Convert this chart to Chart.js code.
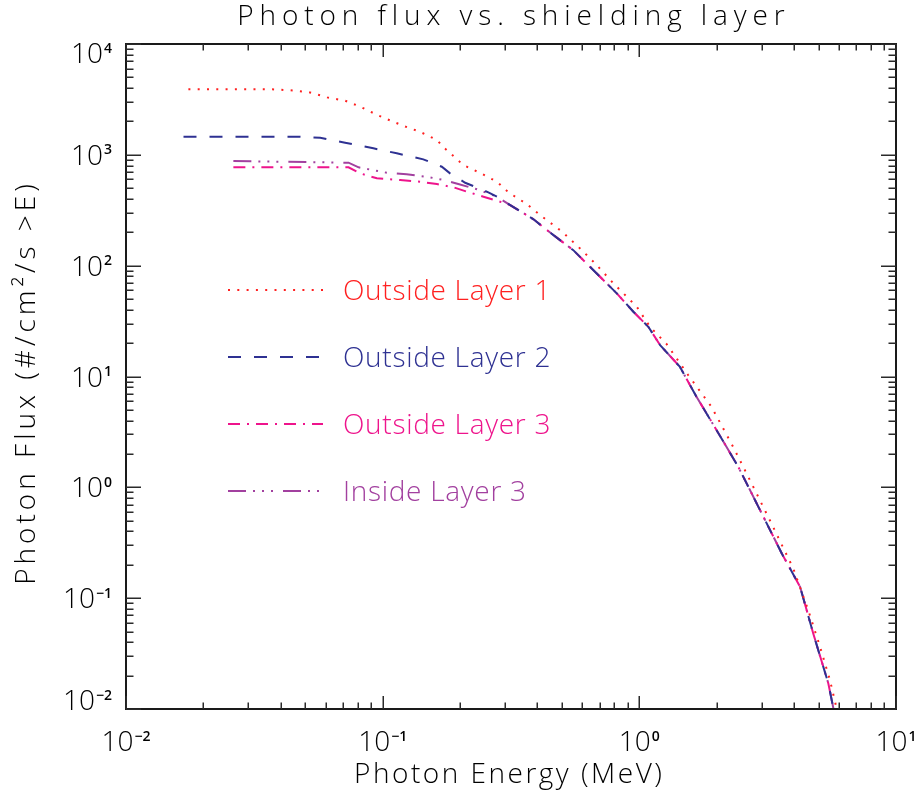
<!DOCTYPE html>
<html>
<head>
<meta charset="utf-8">
<title>Photon flux vs. shielding layer</title>
<script src="https://cdn.jsdelivr.net/npm/chart.js@4.4.1/dist/chart.umd.min.js"></script>
<style>
  html, body { margin: 0; padding: 0; background: #ffffff; }
  #wrap { width: 920px; height: 800px; }
</style>
</head>
<body>
<div id="wrap"><canvas id="flux" width="920" height="800"></canvas></div>
<script>
// Integral photon flux (# / cm^2 / s above E) against photon energy (MeV)
const layer1Energy = [0.0175, 0.0371, 0.0437, 0.0513, 0.0608, 0.0714, 0.0817, 0.0952, 0.104, 0.120, 0.140, 0.163, 0.172, 0.183, 0.206, 0.240, 0.279, 0.309, 0.364, 0.411, 0.501, 0.597, 0.672, 0.793, 0.977, 1.10, 1.28, 1.55, 1.91, 2.32, 2.78, 3.32, 3.98, 4.55, 5.06, 5.53, 5.87, 5.92];
const layer1Flux   = [3900, 3900, 3820, 3690, 3300, 3080, 2720, 2290, 2100, 1830, 1610, 1360, 1180, 1040, 809, 686, 571, 459, 360, 286, 202, 138, 105, 69.2, 42.6, 28.1, 19.5, 10.3, 5.33, 2.32, 1.01, 0.44, 0.185, 0.078, 0.0363, 0.0182, 0.0101, 0.0090];

const layer2Energy = [0.01675, 0.0477, 0.0571, 0.0714, 0.092, 0.1135, 0.144, 0.170, 0.183, 0.2096, 0.229, 0.258, 0.279, 0.314, 0.387, 0.436, 0.491, 0.553, 0.703, 0.817, 0.948, 1.084, 1.205, 1.44, 1.67, 2.00, 2.43, 2.91, 3.59, 4.23, 4.76, 5.45, 5.69, 5.76];
const layer2Flux   = [1456, 1456, 1426, 1285, 1145, 1032, 910, 781, 681, 560, 515, 459, 419, 352, 262, 210, 170, 138, 79.4, 56.2, 38.4, 28.1, 19.2, 12.2, 6.56, 3.28, 1.53, 0.667, 0.253, 0.1265, 0.048, 0.017, 0.0104, 0.0090];

const layer3OutEnergy = [0.0262, 0.0736, 0.0817, 0.0949, 0.117, 0.140, 0.1626, 0.189, 0.213, 0.247, 0.287, 0.314, 0.387, 0.436, 0.491, 0.553, 0.703, 0.817, 0.948, 1.084, 1.205, 1.44, 1.67, 2.00, 2.43, 2.91, 3.59, 4.23, 4.76, 5.45, 5.69, 5.76];
const layer3OutFlux   = [771, 771, 681, 614, 593, 572, 545, 509, 465, 419, 377, 352, 262, 210, 170, 138, 79.4, 56.2, 38.4, 28.1, 19.2, 12.2, 6.56, 3.28, 1.53, 0.667, 0.253, 0.1265, 0.048, 0.017, 0.0104, 0.0090];

const layer3InEnergy = [0.0262, 0.0736, 0.0806, 0.1038, 0.124, 0.1486, 0.1726, 0.197, 0.233, 0.279, 0.314, 0.387, 0.436, 0.491, 0.553, 0.703, 0.817, 0.948, 1.084, 1.205, 1.44, 1.67, 2.00, 2.43, 2.91, 3.59, 4.23, 4.76, 5.45, 5.69, 5.76];
const layer3InFlux   = [879, 849, 771, 689, 667, 634, 593, 545, 489, 419, 352, 262, 210, 170, 138, 79.4, 56.2, 38.4, 28.1, 19.2, 12.2, 6.56, 3.28, 1.53, 0.667, 0.253, 0.1265, 0.048, 0.017, 0.0104, 0.0090];

const seriesNames = ['Outside Layer 1', 'Outside Layer 2', 'Outside Layer 3', 'Inside Layer 3'];

// Decade ticks and their exponent labels
const xTickValues = [0.01, 0.1, 1, 10];
const xTickExponents = ['\u22122', '\u22121', '0', '1'];
const yTickValues = [0.01, 0.1, 1, 10, 100, 1000, 10000];
const yTickExponents = ['\u22122', '\u22121', '0', '1', '2', '3', '4'];

const chartTitle = 'Photon flux vs. shielding layer';
const xTitle = 'Photon Energy (MeV)';
const yTitle = 'Photon Flux (#/cm\u00b2/s >E)';

const FONT = "'Open Sans', 'Liberation Sans', Arial, sans-serif";
const TEXT_WEIGHT = '300';

function pairs(xs, ys) {
  return xs.map((x, i) => ({ x: x, y: ys[i] }));
}

// Text with extra letter spacing, placed by its visual left edge or centre
function spacedText(ctx, text, x, y, spacing, align) {
  ctx.letterSpacing = spacing + 'px';
  const w = ctx.measureText(text).width - spacing;
  const left = align === 'center' ? x - w / 2 : x;
  ctx.textAlign = 'left';
  ctx.fillText(text, left, y);
  ctx.letterSpacing = '0px';
}

// "10" with a raised exponent
function powerLabel(ctx, exp, x, baseline, align) {
  ctx.letterSpacing = '0px';
  ctx.textAlign = 'left';
  ctx.textBaseline = 'alphabetic';
  ctx.font = TEXT_WEIGHT + ' 28px ' + FONT;
  const wBase = ctx.measureText('10').width;
  ctx.font = '600 14px ' + FONT;
  const wExp = ctx.measureText(exp).width;
  const total = wBase + 1 + wExp;
  const left = align === 'center' ? x - total / 2 : x - total;
  ctx.font = TEXT_WEIGHT + ' 28px ' + FONT;
  ctx.fillText('10', left, baseline);
  ctx.font = '600 14px ' + FONT;
  ctx.fillText(exp, left + wBase + 1, baseline - 10.5);
}

function minorValues(min, max) {
  const out = [];
  for (let d = min; d < max * 0.999; d *= 10) {
    for (let m = 2; m <= 9; m++) out.push(d * m);
  }
  return out;
}

const frame = {
  id: 'frame',
  afterDatasetsDraw(chart) {
    const ctx = chart.ctx;
    const { left, right, top, bottom } = chart.chartArea;
    const xs = chart.scales.x, ys = chart.scales.y;
    ctx.save();

    // plot box
    ctx.strokeStyle = '#1a1a1a';
    ctx.lineWidth = 2;
    ctx.strokeRect(left, top, right - left, bottom - top);

    // inward ticks on all four sides
    ctx.strokeStyle = '#2a2a2a';
    ctx.lineWidth = 1.5;
    ctx.beginPath();
    const xMajor = 13, xMinor = 6.5, yMajor = 15, yMinor = 7.5;
    xTickValues.forEach(v => {
      const px = Math.round(xs.getPixelForValue(v)) + 0.25;
      ctx.moveTo(px, bottom); ctx.lineTo(px, bottom - xMajor);
      ctx.moveTo(px, top); ctx.lineTo(px, top + xMajor);
    });
    minorValues(xs.min, xs.max).forEach(v => {
      const px = Math.round(xs.getPixelForValue(v)) + 0.25;
      ctx.moveTo(px, bottom); ctx.lineTo(px, bottom - xMinor);
      ctx.moveTo(px, top); ctx.lineTo(px, top + xMinor);
    });
    yTickValues.forEach(v => {
      const py = Math.round(ys.getPixelForValue(v)) + 0.25;
      ctx.moveTo(left, py); ctx.lineTo(left + yMajor, py);
      ctx.moveTo(right, py); ctx.lineTo(right - yMajor, py);
    });
    minorValues(ys.min, ys.max).forEach(v => {
      const py = Math.round(ys.getPixelForValue(v)) + 0.25;
      ctx.moveTo(left, py); ctx.lineTo(left + yMinor, py);
      ctx.moveTo(right, py); ctx.lineTo(right - yMinor, py);
    });
    ctx.stroke();

    // tick labels
    ctx.fillStyle = '#000000';
    xTickValues.forEach((v, i) => {
      powerLabel(ctx, xTickExponents[i], xs.getPixelForValue(v), bottom + 42, 'center');
    });
    yTickValues.forEach((v, i) => {
      const py = ys.getPixelForValue(v);
      let base = py + 10;
      if (base - 20 < top - 1) base = top + 19;
      if (base > bottom + 1) base = bottom + 1;
      powerLabel(ctx, yTickExponents[i], left - 14, base, 'right');
    });

    // titles
    ctx.textBaseline = 'alphabetic';
    ctx.font = TEXT_WEIGHT + ' 28px ' + FONT;
    spacedText(ctx, chartTitle, (left + right) / 2, 25, 5.9, 'center');
    spacedText(ctx, xTitle, (left + right) / 2 - 3, 783, 2.5, 'center');
    ctx.save();
    ctx.translate(35, (top + bottom) / 2 + 8);
    ctx.rotate(-Math.PI / 2);
    spacedText(ctx, yTitle, 0, 0, 4, 'center');
    ctx.restore();

    // legend inside the plot
    chart.data.datasets.forEach((ds, i) => {
      const y = top + 246 + i * 67;
      ctx.strokeStyle = ds.borderColor;
      ctx.lineWidth = ds.borderWidth;
      ctx.setLineDash(ds.borderDash);
      ctx.beginPath();
      ctx.moveTo(left + 102, y);
      ctx.lineTo(left + 197, y);
      ctx.stroke();
      ctx.setLineDash([]);
      ctx.fillStyle = ds.borderColor;
      ctx.font = TEXT_WEIGHT + ' 28px ' + FONT;
      spacedText(ctx, ds.label, left + 217, y + 10, 0.7, 'left');
    });

    ctx.restore();
  }
};

new Chart(document.getElementById('flux'), {
  type: 'line',
  data: {
    datasets: [
      { label: seriesNames[0], data: pairs(layer1Energy, layer1Flux), borderColor: '#ff2020', borderWidth: 2, borderDash: [2, 7.3] },
      { label: seriesNames[1], data: pairs(layer2Energy, layer2Flux), borderColor: '#2e3192', borderWidth: 2, borderDash: [13, 13] },
      { label: seriesNames[2], data: pairs(layer3OutEnergy, layer3OutFlux), borderColor: '#ee148c', borderWidth: 2, borderDash: [12, 7, 2, 7] },
      { label: seriesNames[3], data: pairs(layer3InEnergy, layer3InFlux), borderColor: '#a2409f', borderWidth: 2, borderDash: [18, 7, 2, 7, 2, 7, 2, 10] }
    ]
  },
  options: {
    responsive: false,
    animation: false,
    devicePixelRatio: 1,
    layout: { padding: { left: 126, right: 24, top: 44, bottom: 91 } },
    plugins: {
      legend: { display: false },
      title: { display: false },
      tooltip: { enabled: false }
    },
    elements: {
      point: { radius: 0, hoverRadius: 0 },
      line: { tension: 0, fill: false }
    },
    scales: {
      x: { type: 'logarithmic', min: 0.01, max: 10, display: false },
      y: { type: 'logarithmic', min: 0.01, max: 10000, display: false }
    }
  },
  plugins: [frame]
});
</script>
</body>
</html>
